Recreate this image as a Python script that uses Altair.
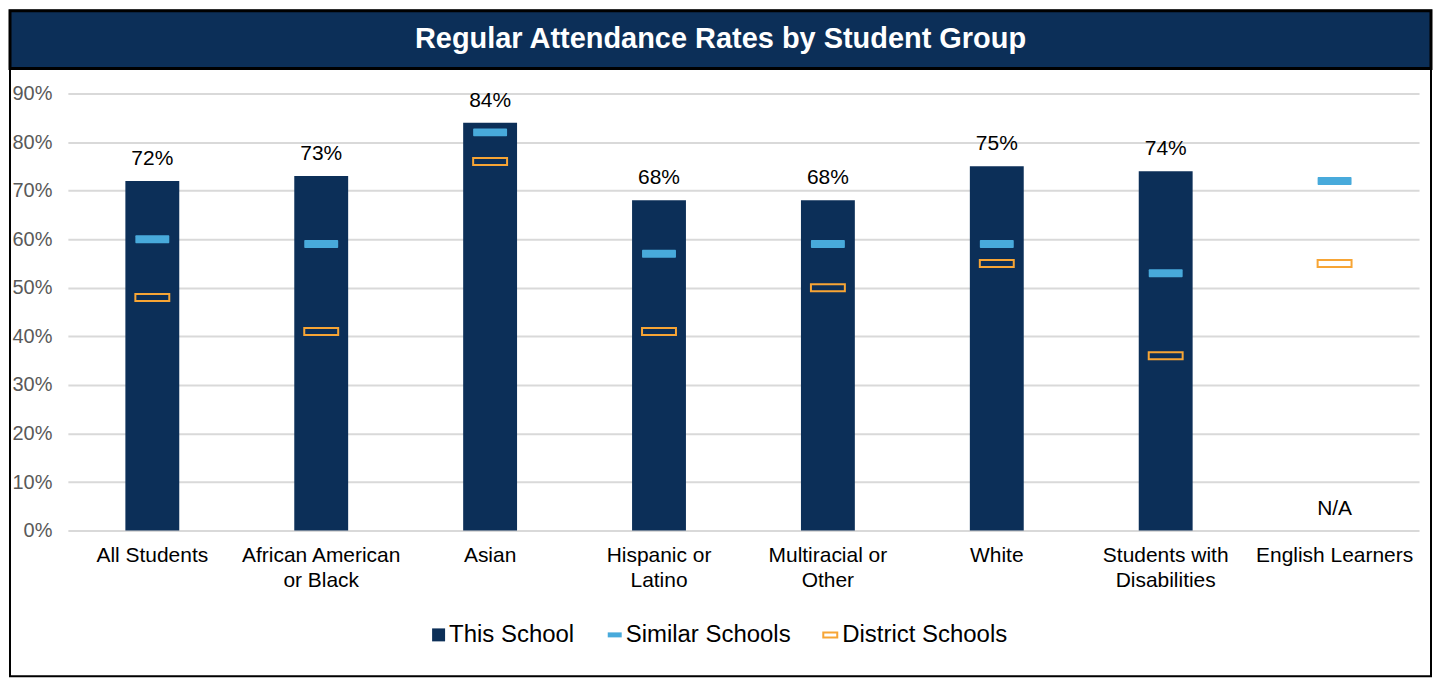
import altair as alt
import pandas as pd

categories = ["All Students", "African American|or Black", "Asian", "Hispanic or|Latino",
              "Multiracial or|Other", "White", "Students with|Disabilities", "English Learners"]
this_school = [72, 73, 84, 68, 68, 75, 74, None]
similar = [60, 59, 82, 57, 59, 59, 53, 72]
district = [48, 41, 76, 41, 50, 55, 36, 55]
series_names = ["This School", "Similar Schools", "District Schools"]
title_text = "Regular Attendance Rates by Student Group"
y_ticks = [0, 10, 20, 30, 40, 50, 60, 70, 80, 90]

NAVY = "#0C2F58"
BLUE = "#48AADB"
ORANGE = "#F7A535"
FONT = "Liberation Sans"
W, H = 1354, 438

df = pd.DataFrame({
    "category": categories,
    "this_school": this_school,
    "similar": similar,
    "district": district,
})
df["label"] = [f"{v}%" if v is not None else "N/A" for v in this_school]
df["label_y"] = [v if v is not None else 0 for v in this_school]

one = pd.DataFrame({"k": [0]})

x = alt.X("category:N", sort=categories,
          scale=alt.Scale(paddingInner=0, paddingOuter=0),
          axis=alt.Axis(title=None, labelExpr="split(datum.label, '|')", labelAngle=0,
                        ticks=False, domain=False, labelFontSize=21, labelColor="#000000",
                        labelPadding=14, labelLineHeight=25, labelFont=FONT, grid=False))
yscale = alt.Scale(domain=[0, 90], nice=False, zero=True)
yaxis = alt.Axis(title=None, values=y_ticks, labelExpr="datum.value + '%'", ticks=False,
                 domain=False, grid=True, gridColor="#D9D9D9", gridWidth=2,
                 labelFontSize=20, labelColor="#595959", labelPadding=16, labelFont=FONT)

bars = alt.Chart(df).mark_bar(size=54, color=NAVY).encode(
    x=x, y=alt.Y("this_school:Q", scale=yscale, axis=yaxis))
sim = alt.Chart(df).mark_tick(size=34, thickness=8, color=BLUE, opacity=1, cornerRadius=1).encode(
    x=x, y=alt.Y("similar:Q", scale=yscale))
dist = alt.Chart(df).mark_tick(size=34, thickness=7, color=ORANGE, filled=False,
                               strokeWidth=2, opacity=1).encode(
    x=x, y=alt.Y("district:Q", scale=yscale))
labels = alt.Chart(df).mark_text(dy=-22, fontSize=21, color="#000000", font=FONT,
                                 baseline="middle").encode(
    x=x, y=alt.Y("label_y:Q", scale=yscale), text="label:N")

# frame and header
frame = alt.Chart(one).mark_rect(fill="transparent", stroke="#000000", strokeWidth=2).encode(
    x=alt.value(-58), x2=alt.value(W + 12), y=alt.value(-83), y2=alt.value(H + 146))
header = alt.Chart(one).mark_rect(fill=NAVY, stroke="#000000", strokeWidth=3).encode(
    x=alt.value(-58), x2=alt.value(W + 12), y=alt.value(-83), y2=alt.value(-25))
title = alt.Chart(one).mark_text(fontSize=29, fontWeight="bold", color="white", font=FONT,
                                 align="center", baseline="middle").encode(
    x=alt.value((W - 46) / 2), y=alt.value(-55), text=alt.value(title_text))

# legend
LY = H + 104
leg_sq = alt.Chart(one).mark_rect(fill=NAVY).encode(
    x=alt.value(365), x2=alt.value(378), y=alt.value(LY - 6), y2=alt.value(LY + 7))
leg_sim = alt.Chart(one).mark_rect(fill=BLUE).encode(
    x=alt.value(541), x2=alt.value(555), y=alt.value(LY - 2), y2=alt.value(LY + 3))
leg_dist = alt.Chart(one).mark_rect(fill="white", stroke=ORANGE, strokeWidth=2).encode(
    x=alt.value(757), x2=alt.value(771), y=alt.value(LY - 2), y2=alt.value(LY + 3))
leg_texts = []
for name, lx in zip(series_names, [382, 559, 776]):
    leg_texts.append(alt.Chart(one).mark_text(fontSize=24, color="#000000", font=FONT,
                                              align="left", baseline="middle").encode(
        x=alt.value(lx), y=alt.value(LY + 1), text=alt.value(name)))

chart = alt.layer(frame, header, title, bars, sim, dist, labels,
                  leg_sq, leg_sim, leg_dist, *leg_texts).properties(
    width=W, height=H, padding=0
).configure_view(strokeWidth=0)

chart.save("out.html", embed_options={"renderer": "svg", "actions": False})
